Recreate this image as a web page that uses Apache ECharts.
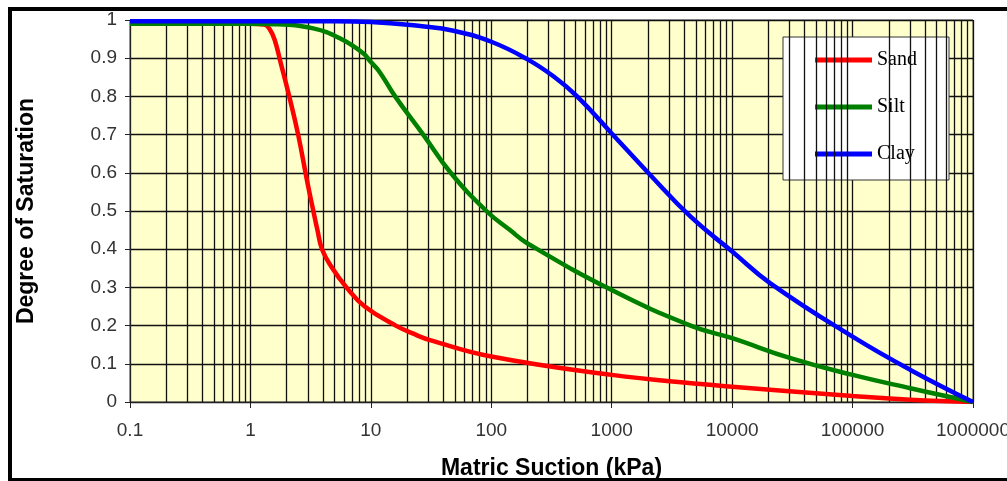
<!DOCTYPE html>
<html>
<head>
<meta charset="utf-8">
<script src="https://cdn.jsdelivr.net/npm/echarts@6/dist/echarts.min.js"></script>
<style>html,body{margin:0;padding:0;background:#fff;}#c{width:1007px;height:481px;}</style>
</head>
<body>
<div id="c"></div>
<script>
// ---- data ----
const seriesNames = ['Sand', 'Silt', 'Clay'];
const xTickLabels = ['0.1', '1', '10', '100', '1000', '10000', '100000', '1000000'];
const decades = [0.1, 1, 10, 100, 1000, 10000, 100000];
const minorMultipliers = [2, 3, 4, 5, 6, 7, 8, 9];

const sandX = [0.1, 0.5, 1, 1.3, 1.45, 1.6, 1.76, 2.1, 2.49, 2.95, 3.33, 3.6, 3.93, 4.7, 6.27, 8.9, 16.1, 24, 31, 100, 1000, 5470, 10000, 100000, 302000, 1000000];
const sandY = [0.99, 0.99, 0.99, 0.988, 0.975, 0.945, 0.895, 0.80, 0.70, 0.58, 0.50, 0.45, 0.40, 0.354, 0.30, 0.25, 0.20, 0.175, 0.162, 0.119, 0.071, 0.047, 0.040, 0.016, 0.006, 0];

const siltX = [0.1, 1, 1.6, 3.32, 5.53, 8.63, 10, 11.7, 15.9, 27.2, 46, 91, 143, 200, 1000, 4520, 10000, 31000, 100000, 302000, 1000000];
const siltY = [0.99, 0.99, 0.989, 0.978, 0.952, 0.913, 0.89, 0.866, 0.80, 0.70, 0.60, 0.50, 0.45, 0.415, 0.293, 0.20, 0.167, 0.114, 0.071, 0.036, 0];

const clayX = [0.1, 5, 10, 25.7, 48.6, 100, 200, 330, 516, 1000, 2024, 4520, 10000, 20900, 100000, 302000, 1000000];
const clayY = [0.997, 0.997, 0.995, 0.984, 0.972, 0.943, 0.897, 0.852, 0.80, 0.703, 0.599, 0.485, 0.394, 0.31, 0.171, 0.084, 0];

const colors = ['#FF0000', '#008000', '#0000FF'];

function pairs(xs, ys) { return xs.map((x, i) => [x, ys[i]]); }
const minorVals = [];
decades.forEach(d => minorMultipliers.forEach(m => minorVals.push(d * m)));

const chart = echarts.init(document.getElementById('c'), null, {renderer: 'canvas'});
const lineSeries = [[sandX, sandY], [siltX, siltY], [clayX, clayY]].map((xy, i) => ({
  name: seriesNames[i],
  type: 'line',
  data: pairs(xy[0], xy[1]),
  showSymbol: false,
  smooth: 0.45,
  z: 5,
  lineStyle: {color: colors[i], width: 4.5},
  itemStyle: {color: colors[i]}
}));

chart.setOption({
  animation: false,
  graphic: [{
    type: 'rect', z: 100,
    shape: {x: 10, y: 9, width: 1020, height: 471},
    style: {fill: 'none', stroke: '#000', lineWidth: 4}
  }],
  grid: {left: 130, right: 34, top: 20, bottom: 79, outerBoundsMode: 'none', show: true, backgroundColor: '#FFFFCC', borderColor: '#555', borderWidth: 1},
  legend: {
    data: seriesNames,
    orient: 'vertical', left: 783, top: 37,
    icon: 'rect', itemWidth: 57, itemHeight: 5, itemGap: 27,
    backgroundColor: '#fff', borderColor: '#333', borderWidth: 1,
    padding: [13, 32, 16, 32],
    textStyle: {fontFamily: 'Liberation Serif', fontSize: 20, color: '#000'}
  },
  xAxis: {
    type: 'log', logBase: 10, min: 0.1, max: 1000000,
    name: 'Matric Suction (kPa)', nameLocation: 'middle', nameGap: 55,
    nameTextStyle: {fontFamily: 'Liberation Sans', fontWeight: 'bold', fontSize: 23, color: '#000'},
    axisLine: {show: true, lineStyle: {color: '#222', width: 1}},
    axisTick: {show: true, length: 6, lineStyle: {color: '#222'}},
    axisLabel: {
      margin: 19, fontFamily: 'Liberation Sans', fontSize: 19, color: '#333',
      formatter: v => xTickLabels[Math.round(Math.log10(v)) + 1]
    },
    splitLine: {show: true, lineStyle: {color: '#111', width: 1.3}},
    minorTick: {show: false}
  },
  yAxis: {
    type: 'value', min: 0, max: 1, interval: 0.1,
    name: 'Degree of Saturation', nameLocation: 'middle', nameGap: 92,
    nameTextStyle: {fontFamily: 'Liberation Sans', fontWeight: 'bold', fontSize: 23, color: '#000'},
    axisLine: {show: true, lineStyle: {color: '#222', width: 1}},
    axisTick: {show: true, length: 5, lineStyle: {color: '#222'}},
    axisLabel: {margin: 13, fontFamily: 'Liberation Sans', fontSize: 19, color: '#333'},
    splitLine: {show: true, lineStyle: {color: '#111', width: 1.3}}
  },
  series: [{
    name: 'minorGrid', type: 'line', data: [], z: 1, silent: true,
    markLine: {
      silent: true, symbol: ['none', 'none'], animation: false,
      label: {show: false},
      lineStyle: {type: 'solid', color: '#111', width: 1.3},
      emphasis: {disabled: true},
      data: minorVals.map(v => ({xAxis: v}))
    }
  }].concat(lineSeries)
});
</script>
</body>
</html>
